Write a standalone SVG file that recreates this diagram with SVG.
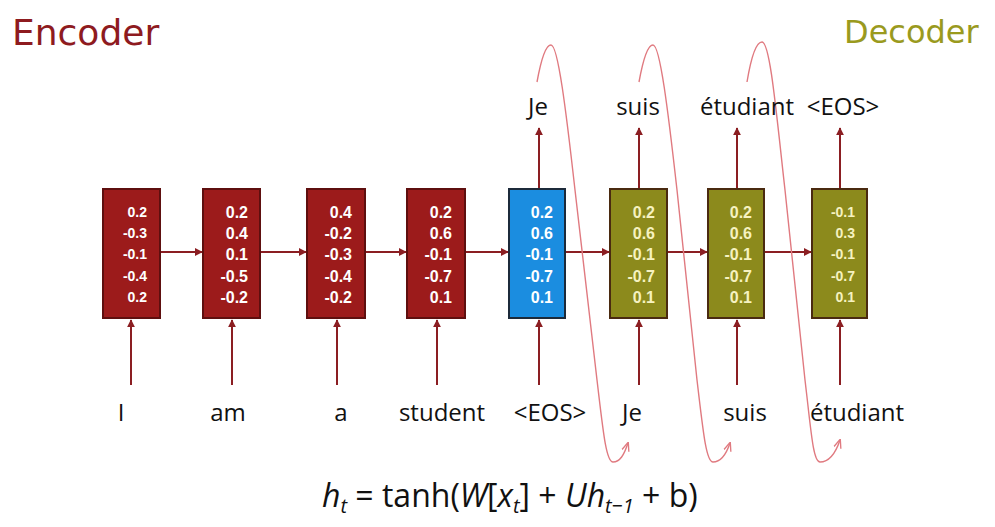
<svg xmlns="http://www.w3.org/2000/svg" width="995" height="527" viewBox="0 0 995 527">
<defs>
<marker id="ah" viewBox="0 0 10 10" refX="9" refY="5" markerWidth="8" markerHeight="8" markerUnits="userSpaceOnUse" orient="auto"><path d="M0,0 L10,5 L0,10 Z" fill="#8b1e22"/></marker>
<marker id="ph" viewBox="0 0 10 10" refX="9" refY="5" markerWidth="9" markerHeight="9" markerUnits="userSpaceOnUse" orient="auto"><path d="M0,1 L10,5 L0,9" fill="none" stroke="#e07a80" stroke-width="1.5"/></marker>
</defs>
<style>
.enc rect{fill:#9c1b1b;stroke:#5e0f0f;stroke-width:2}
.blu rect{fill:#1b8de0;stroke:#1c2a3a;stroke-width:2}
.dec rect{fill:#8c8a1c;stroke:#4a2a10;stroke-width:2}
.num{font-family:"Liberation Sans",Arial,sans-serif;font-size:16px;font-weight:bold;text-anchor:end}
.sm{font-size:14px}
.enc text,.blu text{fill:#ffffff}
.dec text{fill:#f6f2c0}
.lbl{font-family:"Open Sans","Liberation Sans",sans-serif;font-size:24px;fill:#111;text-anchor:middle}
.arr{stroke:#8b1e22;stroke-width:2;fill:none;marker-end:url(#ah)}
.loop{stroke:#e07a80;stroke-width:1.4;fill:none;marker-end:url(#ph)}
.title{font-family:"DejaVu Sans",sans-serif}
</style>
<rect width="995" height="527" fill="#ffffff"/>
<text class="title" x="12" y="45" font-size="36" fill="#8e1b1f">Encoder</text>
<text class="title" x="844" y="43" font-size="32" fill="#9a9a1e">Decoder</text>
<g id="connectors">
<line class="arr" x1="160" y1="252" x2="202" y2="252"/>
<line class="arr" x1="260" y1="252" x2="306" y2="252"/>
<line class="arr" x1="365" y1="252" x2="406" y2="252"/>
<line class="arr" x1="465" y1="252" x2="508" y2="252"/>
<line class="arr" x1="565" y1="252" x2="609" y2="252"/>
<line class="arr" x1="667" y1="252" x2="707" y2="252"/>
<line class="arr" x1="764" y1="252" x2="811" y2="252"/>
<line class="arr" x1="131" y1="385" x2="131" y2="320"/>
<line class="arr" x1="232" y1="385" x2="232" y2="320"/>
<line class="arr" x1="337" y1="385" x2="337" y2="320"/>
<line class="arr" x1="437" y1="385" x2="437" y2="320"/>
<line class="arr" x1="539" y1="385" x2="539" y2="320"/>
<line class="arr" x1="639" y1="385" x2="639" y2="320"/>
<line class="arr" x1="737" y1="385" x2="737" y2="320"/>
<line class="arr" x1="840" y1="385" x2="840" y2="320"/>
<line class="arr" x1="539" y1="188" x2="539" y2="128"/>
<line class="arr" x1="639" y1="188" x2="639" y2="128"/>
<line class="arr" x1="737" y1="188" x2="737" y2="128"/>
<line class="arr" x1="840" y1="188" x2="840" y2="128"/>
<path class="loop" d="M537,82 C541,60 546,45 551,45 C558,45 566,110 575,190 L597,380 C603,430 606,462 613,462 C620,462 624,455 628,443"/>
<path class="loop" d="M639,82 C643,60 648,45 653,45 C660,45 668,110 677,190 L697,380 C703,430 706,462 713,462 C721,462 726,455 730,443"/>
<path class="loop" d="M747,82 C751,58 756,42 762,42 C770,42 776,110 785,190 L805,380 C811,430 813,462 820,462 C830,462 836,452 840,440"/>
</g>
<g id="n1" class="enc"><rect x="103" y="189" width="57" height="129"/>
<text class="num sm" x="147" y="217">0.2</text><text class="num sm" x="147" y="238">-0.3</text><text class="num sm" x="147" y="259">-0.1</text><text class="num sm" x="147" y="281">-0.4</text><text class="num sm" x="147" y="302">0.2</text></g>
<g id="n2" class="enc"><rect x="203" y="189" width="57" height="129"/>
<text class="num" x="248" y="218">0.2</text><text class="num" x="248" y="239">0.4</text><text class="num" x="248" y="260">0.1</text><text class="num" x="248" y="282">-0.5</text><text class="num" x="248" y="303">-0.2</text></g>
<g id="n3" class="enc"><rect x="307" y="189" width="58" height="129"/>
<text class="num" x="352" y="218">0.4</text><text class="num" x="352" y="239">-0.2</text><text class="num" x="352" y="260">-0.3</text><text class="num" x="352" y="282">-0.4</text><text class="num" x="352" y="303">-0.2</text></g>
<g id="n4" class="enc"><rect x="407" y="189" width="58" height="129"/>
<text class="num" x="452" y="218">0.2</text><text class="num" x="452" y="239">0.6</text><text class="num" x="452" y="260">-0.1</text><text class="num" x="452" y="282">-0.7</text><text class="num" x="452" y="303">0.1</text></g>
<g id="n5" class="blu"><rect x="509" y="189" width="56" height="129"/>
<text class="num" x="553" y="218">0.2</text><text class="num" x="553" y="239">0.6</text><text class="num" x="553" y="260">-0.1</text><text class="num" x="553" y="282">-0.7</text><text class="num" x="553" y="303">0.1</text></g>
<g id="n6" class="dec"><rect x="610" y="189" width="57" height="129"/>
<text class="num" x="655" y="218">0.2</text><text class="num" x="655" y="239">0.6</text><text class="num" x="655" y="260">-0.1</text><text class="num" x="655" y="282">-0.7</text><text class="num" x="655" y="303">0.1</text></g>
<g id="n7" class="dec"><rect x="708" y="189" width="56" height="129"/>
<text class="num" x="752" y="218">0.2</text><text class="num" x="752" y="239">0.6</text><text class="num" x="752" y="260">-0.1</text><text class="num" x="752" y="282">-0.7</text><text class="num" x="752" y="303">0.1</text></g>
<g id="n8" class="dec"><rect x="812" y="189" width="55" height="129"/>
<text class="num sm" x="855" y="217">-0.1</text><text class="num sm" x="855" y="238">0.3</text><text class="num sm" x="855" y="259">-0.1</text><text class="num sm" x="855" y="281">-0.7</text><text class="num sm" x="855" y="302">0.1</text></g>
<g id="inputs">
<text class="lbl" x="121" y="421">I</text>
<text class="lbl" x="228" y="421">am</text>
<text class="lbl" x="341" y="421">a</text>
<text class="lbl" x="442" y="421">student</text>
<text class="lbl" x="550" y="421">&lt;EOS&gt;</text>
<text class="lbl" x="632" y="421">Je</text>
<text class="lbl" x="745" y="421">suis</text>
<text class="lbl" x="857" y="421">étudiant</text>
</g>
<g id="outputs">
<text class="lbl" x="538" y="115">Je</text>
<text class="lbl" x="638" y="115">suis</text>
<text class="lbl" x="747" y="115">étudiant</text>
<text class="lbl" x="843" y="115">&lt;EOS&gt;</text>
</g>
<text x="322" y="507" font-family="Open Sans,Liberation Sans,sans-serif" font-size="32" fill="#111"><tspan font-style="italic">h</tspan><tspan font-style="italic" font-size="20" dy="6">t</tspan><tspan dy="-6"> = tanh(</tspan><tspan font-style="italic">W</tspan><tspan>[</tspan><tspan font-style="italic">x</tspan><tspan font-style="italic" font-size="20" dy="6">t</tspan><tspan dy="-6">] + </tspan><tspan font-style="italic">Uh</tspan><tspan font-style="italic" font-size="20" dy="6">t−1</tspan><tspan dy="-6"> + b)</tspan></text>
</svg>
